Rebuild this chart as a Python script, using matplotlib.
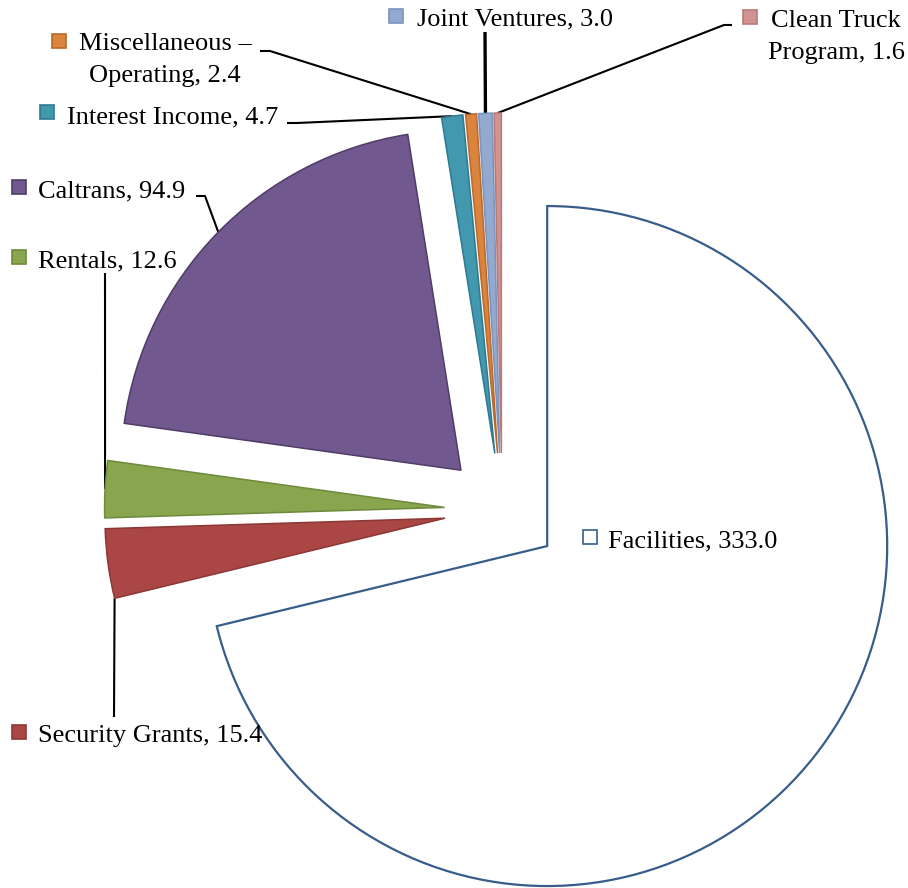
import matplotlib.pyplot as plt
import numpy as np

# revenue sources, in the order they run clockwise from 12 o'clock
names = ["Facilities", "Security Grants", "Rentals", "Caltrans", "Interest Income",
         "Miscellaneous \u2013 Operating", "Joint Ventures", "Clean Truck Program"]
values = [333.0, 15.4, 12.6, 94.9, 4.7, 2.4, 3.0, 1.6]

fills = ["#FFFFFF", "#AA4643", "#89A54E", "#71588F", "#4198AF", "#DB843D", "#93A9CF", "#D19392"]
edges = ["#385D8A", "#8C3836", "#6E8A3C", "#4F3D66", "#2F7A90", "#B9692B", "#7A93BE", "#B67A79"]

W, H = 908, 888
fig = plt.figure(figsize=(W / 100, H / 100), dpi=100)
ax = fig.add_axes([0, 0, 1, 1])


def pt(x, y):
    # pixel position measured from the top-left corner -> axes data
    return x, H - y


wedges, _ = ax.pie(values, radius=340, center=pt(502, 510.5), explode=[57.5] * len(values),
                   startangle=90, counterclock=False, colors=fills,
                   wedgeprops=dict(linewidth=1.1, zorder=2))
for w, ec in zip(wedges, edges):
    w.set_edgecolor(ec)
wedges[0].set_linewidth(1.6)

ax.set_xlim(0, W)
ax.set_ylim(0, H)
ax.set_aspect("equal")
ax.axis("off")

# label layout: text lines (x, baseline y, align), key square, leader start, anchor side, leader width
layout = [
    dict(lines=[(608, 547, "left")], key=(590, 537), lead=[], side=0.5, lw=1.5),
    dict(lines=[(38, 742, "left")], key=(19, 732), lead=[(114, 717)], side=1.0, lw=1.5),
    dict(lines=[(38, 267, "left")], key=(18.5, 257), lead=[(105, 273)], side=0.5, lw=1.5),
    dict(lines=[(38, 197, "left")], key=(18.5, 187), lead=[(196, 196), (205, 196)],
         side=0.5, lw=1.5),
    dict(lines=[(67, 123, "left")], key=(46.5, 112), lead=[(287, 123), (297, 123)],
         side=0.5, lw=1.5),
    dict(lines=[(165, 50, "center"), (165, 82, "center")], key=(59, 41),
         lead=[(260, 51), (270, 51)], side=0.5, lw=1.5),
    dict(lines=[(417, 25, "left")], key=(396, 16), lead=[(485, 32)], side=0.5, lw=2.4),
    dict(lines=[(836, 27, "center"), (836, 59, "center")], key=(749.5, 17),
         lead=[(732, 25), (724, 25)], side=0.5, lw=1.5),
]

texts = [
    [f"{names[0]}, {values[0]:.1f}"],
    [f"{names[1]}, {values[1]:.1f}"],
    [f"{names[2]}, {values[2]:.1f}"],
    [f"{names[3]}, {values[3]:.1f}"],
    [f"{names[4]}, {values[4]:.1f}"],
    ["Miscellaneous \u2013", f"Operating, {values[5]:.1f}"],
    [f"{names[6]}, {values[6]:.1f}"],
    ["Clean Truck", f"Program, {values[7]:.1f}"],
]

font = dict(family="Liberation Serif", size=19, color="black")

for w, lay, txt, fc, ec in zip(wedges, layout, texts, fills, edges):
    for (x, y, ha), s in zip(lay["lines"], txt):
        ax.text(*pt(x, y), s, ha=ha, va="baseline", zorder=5, **font)
    kx, ky = pt(*lay["key"])
    ax.plot(kx, ky, marker="s", ms=9.5, mfc=fc, mec=ec, mew=1.2, zorder=5)
    if lay["lead"]:
        a = np.deg2rad(w.theta1 + lay["side"] * (w.theta2 - w.theta1))
        cx, cy = w.center
        ax_pt = (cx + w.r * np.cos(a), cy + w.r * np.sin(a))
        xs = [pt(*p)[0] for p in lay["lead"]] + [ax_pt[0]]
        ys = [pt(*p)[1] for p in lay["lead"]] + [ax_pt[1]]
        ax.plot(xs, ys, color="black", lw=lay["lw"], zorder=1, solid_capstyle="butt")

fig.savefig("out.png", dpi=100)
